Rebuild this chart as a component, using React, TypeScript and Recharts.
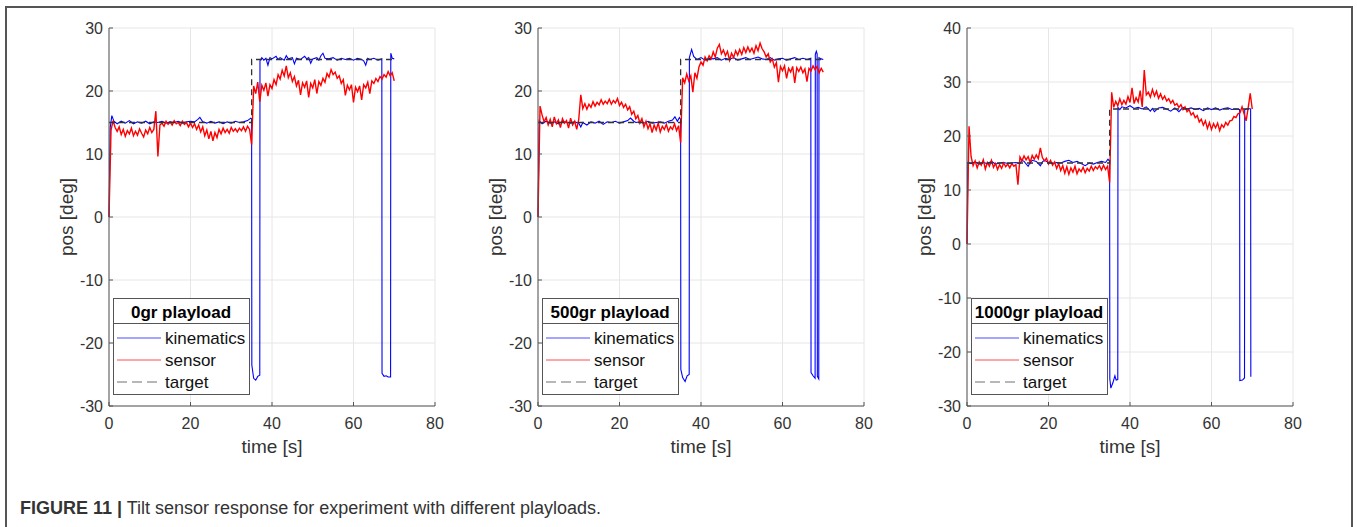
import { LineChart, Line, XAxis, YAxis, CartesianGrid, Legend } from "recharts";

// sampling step of the tilt sensor traces (s)
const SENSOR_STEP = 0.5;

const xTicks = [0, 20, 40, 60, 80];
const yTicksA = [-30, -20, -10, 0, 10, 20, 30];
const yTicksB = [-30, -20, -10, 0, 10, 20, 30, 40];

const panelTitles = ["0gr playload", "500gr playload", "1000gr playload"];

// reference position, same for every experiment: [time, deg]
const target: [number, number][] = [[0, 15], [35, 15], [35, 25], [70, 25]];

// kinematics estimate: [time, deg]
const kin0: [number, number][] = [
  [0, 0], [0.3, 14.2], [0.7, 16.1], [1.2, 15.2], [2, 14.8], [3, 15.2], [4, 14.9], [5, 15.3], [6, 14.8], [7, 15.1],
  [8, 14.9], [9, 15.2], [10, 14.8], [11, 15.1], [12, 15], [13, 15.2], [14, 14.9], [15, 15.1], [16, 15], [17, 15.2],
  [18, 14.9], [19, 15.1], [20, 15.2], [21, 15.1], [21.8, 15.5], [22.3, 15.8], [23, 15.1], [24, 14.9], [25, 15.2],
  [26, 14.9], [27, 15.1], [28, 14.8], [29, 15.1], [30, 14.9], [31, 15.2], [32, 15], [33, 15.1], [34, 15.3],
  [34.8, 15.7], [35, 15.6], [35.05, -23.5], [35.5, -25.6], [36, -25.9], [36.5, -25.3], [37, -25.1], [37.05, 24.8],
  [37.5, 25.3], [38, 24.9], [38.5, 25.2], [39, 24.1], [39.5, 25.3], [40, 25.1], [41, 25.5], [41.5, 25], [42, 25.3],
  [43, 24.9], [43.5, 25.6], [44, 25.1], [45, 25.3], [45.5, 24.3], [46, 25.2], [47, 25], [48, 25.5], [48.5, 25.1],
  [49, 25.3], [49.5, 24.4], [50, 25.1], [51, 25.3], [51.5, 24.9], [52, 25.6], [52.5, 26], [53, 25.2], [54, 25.1],
  [55, 25.3], [56, 24.9], [57, 25.2], [58, 25], [59, 25.2], [60, 24.9], [61, 25.2], [62, 25], [62.5, 24.8],
  [63, 24.1], [63.5, 25.2], [64, 25], [65, 25.2], [66, 24.9], [66.95, 25.1], [67, -24.8], [67.5, -25.3],
  [68, -25.2], [68.5, -25.4], [69.1, -25.4], [69.15, 26], [69.5, 25.2], [70, 25.1],
];

const kin1: [number, number][] = [
  [0, 0], [0.3, 15.3], [1, 14.8], [2, 15.2], [3, 14.9], [4, 15.1], [5, 14.8], [6, 15.2], [7, 15], [8, 14.9],
  [9, 15.1], [10, 14.9], [10.5, 14.3], [11, 15], [12, 14.6], [13, 15.1], [14, 14.9], [15, 15.2], [16, 14.7],
  [17, 15.1], [18, 15], [19, 15.2], [20, 14.9], [21, 15.1], [22, 15.3], [22.7, 15.7], [23.5, 15.2], [24, 15],
  [25, 15.1], [26, 14.9], [27, 15.2], [28, 14.9], [29, 15], [30, 15.1], [31, 14.9], [32, 15.2], [33, 15.4],
  [33.6, 15.9], [34.2, 15.2], [34.7, 15.8], [35, 15.5], [35.05, -24.2], [35.5, -25.5], [36.1, -26.1],
  [36.6, -25.2], [37.1, -25], [37.15, 25.3], [37.7, 26.6], [38.2, 25.5], [39, 25], [40, 25.3], [41, 24.9],
  [42, 25.2], [43, 25.1], [44, 25.3], [45, 24.9], [46, 25.2], [47, 25], [48, 25.3], [49, 24.9], [50, 25.1],
  [51, 25.3], [52, 25], [53, 25.2], [54, 25.4], [55, 25.1], [56, 25], [57, 25.3], [58, 24.9], [59, 25.1],
  [60, 25.2], [61, 24.9], [62, 25.1], [63, 25.3], [64, 25], [65, 25.2], [66, 25], [66.95, 25.2], [67, -24.7],
  [67.5, -25.2], [68, -25.6], [68.05, 25.8], [68.3, 26.3], [68.5, 25.9], [68.55, -25.3], [68.9, -25.7],
  [68.95, 25.3], [69.5, 25.1], [70, 25],
];

const kin2: [number, number][] = [
  [0, 0], [0.2, 15.1], [1, 14.9], [2, 15.2], [3, 14.8], [4, 15.1], [5, 14.9], [6, 15.3], [7, 14.8], [8, 15],
  [9, 15.1], [10, 14.9], [11, 15], [12, 15.1], [13, 14.9], [13.5, 15.5], [14, 15.3], [15, 14.4], [15.5, 15.1],
  [16, 15.5], [17, 15.3], [18, 14.5], [18.5, 15.2], [19, 15.5], [20, 15.1], [21, 14.9], [22, 15.1], [23, 15],
  [24, 15.3], [25, 15.5], [26, 15.1], [27, 15.3], [28, 14.9], [29, 14.5], [30, 15], [31, 14.8], [32, 15.1],
  [33, 15.3], [34, 15.1], [34.6, 15.7], [35, 15.3], [35.05, -25], [35.3, -26.7], [35.8, -25.7], [36.3, -24.4],
  [36.6, -25.2], [37, -25.1], [37.05, 25.3], [37.5, 24.9], [38, 25.4], [39, 25.2], [40, 25.6], [41, 25.1],
  [42, 25.3], [43, 25], [44, 25.4], [45, 24.6], [45.5, 25.1], [46, 24.5], [47, 25.2], [48, 25.3], [49, 25],
  [50, 24.6], [51, 25.2], [52, 24.5], [53, 25.3], [54, 25], [55, 25.2], [56, 24.9], [57, 25.1], [58, 24.7],
  [59, 25.2], [60, 24.9], [61, 25.2], [62, 24.8], [63, 25.1], [64, 25.2], [65, 24.9], [66, 25], [66.9, 24.9],
  [66.95, -25.3], [67.6, -25.2], [68.1, -24.8], [68.15, 24.9], [69, 25.1], [69.6, 25], [69.65, -24.6],
];

// tilt sensor readings, one every SENSOR_STEP seconds from t = 0 (deg)
const sen0 = [
  0, 13.8, 15.3, 14.2, 13.6, 14.3, 13.1, 13.9, 12.8, 13.7, 13.2, 14.1, 12.9, 13.6, 13.0, 14.0, 13.3, 12.7, 13.8, 13.2,
  14.2, 13.4, 13.9, 16.8, 9.6, 14.6, 14.9, 14.4, 15.2, 14.7, 15.1, 14.6, 15.3, 14.8, 15.0, 14.5, 15.2, 14.7, 15.0, 14.3,
  14.9, 14.2, 14.8, 13.9, 14.6, 13.5, 14.3, 12.9, 13.8, 12.4, 13.6, 12.1, 13.4, 12.6, 13.9, 13.2, 14.1, 13.4, 13.9, 13.3,
  14.2, 13.6, 14.0, 13.5, 14.1, 13.7, 14.3, 13.6, 14.4, 13.9, 11.5, 20.8, 19.6, 21.4, 18.3, 20.9, 20.1, 21.3, 19.2, 21.0,
  20.4, 21.8, 21.0, 22.6, 21.9, 23.3, 22.4, 24.0, 22.1, 22.9, 21.5, 22.3, 20.8, 21.7, 19.4, 21.3, 20.6, 21.6, 19.0, 21.2,
  20.5, 21.8, 19.6, 21.5, 20.9, 22.0, 21.4, 22.8, 22.2, 23.4, 22.6, 23.0, 22.0, 22.4, 21.2, 21.8, 19.3, 20.9, 20.2, 21.0,
  18.2, 20.6, 19.9, 20.8, 18.6, 21.0, 20.5, 21.4, 19.6, 21.6, 21.2, 22.0, 21.5, 22.3, 21.9, 22.6, 22.2, 23.1, 22.4, 22.9,
  21.6,
];

const sen1 = [
  0, 17.6, 16.2, 15.1, 15.8, 14.6, 15.5, 14.3, 15.9, 14.8, 15.4, 14.2, 15.6, 14.9, 15.3, 14.1, 15.7, 14.6, 15.2, 13.9,
  15.5, 19.4, 17.2, 18.0, 17.1, 17.9, 17.4, 18.3, 17.6, 18.2, 17.8, 18.6, 17.9, 18.4, 18.0, 18.7, 17.9, 18.5, 18.1, 18.8,
  17.7, 18.2, 17.4, 17.9, 17.0, 17.5, 16.3, 16.8, 15.6, 16.1, 14.9, 15.6, 14.3, 15.2, 14.0, 14.8, 13.4, 14.6, 13.8, 14.9,
  13.5, 14.4, 13.9, 14.7, 13.6, 14.3, 13.9, 14.8, 13.7, 14.5, 11.8, 22.1, 21.3, 22.7, 21.6, 22.4, 19.8, 22.9, 22.0, 23.8,
  24.6, 24.1, 25.4, 24.8, 25.6, 25.1, 26.2, 25.4, 26.8, 27.4, 25.9, 26.5, 25.6, 26.3, 24.9, 26.0, 25.3, 26.4, 25.7, 26.6,
  25.8, 26.9, 26.1, 27.0, 26.2, 26.8, 26.0, 27.2, 26.4, 27.6, 26.7, 26.2, 25.4, 25.9, 24.6, 25.1, 23.8, 24.5, 21.4, 23.9,
  23.2, 24.0, 22.0, 23.6, 23.0, 23.9, 21.3, 23.7, 23.1, 23.8, 22.9, 23.5, 21.5, 23.6, 23.2, 24.0, 23.4, 23.9, 22.9, 23.6,
  23.0,
];

const sen2 = [
  0, 21.8, 16.2, 14.5, 15.4, 14.1, 15.2, 14.6, 15.6, 13.9, 15.1, 14.4, 15.5, 14.2, 14.9, 13.8, 14.7, 14.0, 15.0, 14.3,
  14.8, 14.1, 14.9, 14.4, 14.7, 11.0, 16.1, 15.4, 16.3, 15.6, 16.2, 15.1, 16.4, 15.7, 16.5, 15.8, 17.8, 16.0, 15.4, 15.9,
  14.8, 15.5, 14.6, 15.2, 14.0, 14.9, 13.6, 14.5, 13.1, 14.3, 12.9, 14.1, 13.3, 14.4, 13.0, 13.9, 13.4, 14.2, 13.2, 14.0,
  13.5, 14.4, 13.6, 14.3, 13.9, 14.5, 13.7, 14.6, 13.8, 14.4, 11.4, 28.1, 25.3, 26.4, 25.6, 26.9, 25.8, 26.6, 25.9, 27.3,
  26.2, 28.9, 26.0, 27.1, 26.3, 28.4, 25.4, 32.2, 27.6, 28.1, 27.2, 28.6, 27.4, 28.3, 27.0, 27.8, 26.8, 27.4, 26.5, 26.9,
  26.1, 26.6, 25.7, 26.0, 25.3, 25.8, 24.9, 25.4, 24.5, 24.9, 23.9, 24.3, 23.4, 23.8, 22.6, 23.1, 22.0, 22.8, 21.4, 22.5,
  21.2, 22.3, 21.5, 22.4, 21.0, 22.1, 21.6, 22.5, 22.0, 22.8, 22.9, 23.6, 23.4, 24.1, 24.3, 25.4, 24.1, 22.8, 25.2, 27.9,
  25.0,
];

const SERIES = [
  { name: "kinematics", color: "#0000ff", width: 1.1, dash: undefined as string | undefined, legendDash: undefined as string | undefined },
  { name: "sensor", color: "#ff0000", width: 1.4, dash: undefined as string | undefined, legendDash: undefined as string | undefined },
  { name: "target", color: "#333333", width: 1.3, dash: "6 4", legendDash: "10 5" },
];

const FONT = '"Liberation Sans", Arial, Helvetica, sans-serif';
const TEXT = "#333";
const AXIS = "#555";

const pairs = (p: [number, number][]) => p.map(([t, v]) => ({ t, v }));
const sampled = (vals: number[]) => vals.map((v, i) => ({ t: i * SENSOR_STEP, v }));

const PANELS = [
  { left: 49, title: panelTitles[0], kin: kin0, sen: sen0, yTicks: yTicksA },
  { left: 478, title: panelTitles[1], kin: kin1, sen: sen1, yTicks: yTicksA },
  { left: 907, title: panelTitles[2], kin: kin2, sen: sen2, yTicks: yTicksB },
];

const CH_W = 406;
const CH_H = 448;
const TOP = 18;
const M = { top: 10, right: 20, bottom: 0, left: 0 };
const Y_W = 60;
const X_H = 60;

function XTick(props: any) {
  const { x, y, payload } = props;
  return (
    <g>
      <line x1={x} x2={x} y1={y} y2={y - 4} stroke={AXIS} />
      <text x={x} y={y + 17} textAnchor="middle" dominantBaseline="central" fontSize={16} fill={TEXT} fontFamily={FONT}>
        {payload.value}
      </text>
    </g>
  );
}

function YTick(props: any) {
  const { x, y, payload } = props;
  return (
    <g>
      <line x1={x} x2={x + 4} y1={y} y2={y} stroke={AXIS} />
      <text x={x - 6} y={y} textAnchor="end" dominantBaseline="central" fontSize={16} fill={TEXT} fontFamily={FONT}>
        {payload.value}
      </text>
    </g>
  );
}

function LegendBox({ title }: { title: string }) {
  return (
    <svg width={137} height={97} style={{ display: "block" }}>
      <rect x={0.5} y={0.5} width={136} height={96} fill="#fff" stroke={AXIS} />
      <line x1={0.5} x2={136.5} y1={25.5} y2={25.5} stroke={AXIS} />
      <text x={68} y={14} textAnchor="middle" dominantBaseline="central" fontWeight="bold" fontSize={17} fill="#000" fontFamily={FONT}>
        {title}
      </text>
      {SERIES.map((s, i) => (
        <g key={s.name}>
          <line x1={4} x2={48} y1={40 + i * 22} y2={40 + i * 22} stroke={s.color} strokeOpacity={0.7} strokeDasharray={s.legendDash} />
          <text x={52} y={40 + i * 22} dominantBaseline="central" fontSize={17} fill="#111" fontFamily={FONT}>
            {s.name}
          </text>
        </g>
      ))}
    </svg>
  );
}

function Panel({ p }: { p: (typeof PANELS)[number] }) {
  const yMin = p.yTicks[0];
  const yMax = p.yTicks[p.yTicks.length - 1];
  const plotLeft = p.left + M.left + Y_W;
  const plotW = CH_W - M.left - M.right - Y_W;
  const plotTop = TOP + M.top;
  const plotH = CH_H - M.top - M.bottom - X_H;
  const lines = [pairs(p.kin), sampled(p.sen), pairs(target)];
  return (
    <>
      <div style={{ position: "absolute", left: p.left, top: TOP }}>
        <LineChart width={CH_W} height={CH_H} margin={M}>
          <CartesianGrid stroke="#e6e6e6" />
          <XAxis
            dataKey="t"
            type="number"
            domain={[0, 80]}
            ticks={xTicks}
            interval={0}
            height={X_H}
            tickSize={0}
            tickMargin={0}
            tickLine={false}
            axisLine={{ stroke: AXIS }}
            tick={<XTick />}
          />
          <YAxis
            type="number"
            domain={[yMin, yMax]}
            ticks={p.yTicks}
            interval={0}
            width={Y_W}
            tickSize={0}
            tickMargin={0}
            tickLine={false}
            allowDataOverflow
            axisLine={{ stroke: AXIS }}
            tick={<YTick />}
          />
          {SERIES.map((s, i) => (
            <Line
              key={s.name}
              name={s.name}
              data={lines[i]}
              dataKey="v"
              type="linear"
              dot={false}
              activeDot={false}
              stroke={s.color}
              strokeWidth={s.width}
              strokeDasharray={s.dash}
              isAnimationActive={false}
            />
          ))}
          <Legend
            layout="horizontal"
            verticalAlign="middle"
            align="center"
            content={() => <LegendBox title={p.title} />}
            wrapperStyle={{ left: 64, top: 280, width: 137, height: 97 }}
          />
        </LineChart>
      </div>
      <div
        style={{
          position: "absolute",
          left: plotLeft - 42,
          top: plotTop + plotH / 2,
          transform: "translate(-50%, -50%) rotate(-90deg)",
          fontSize: 19,
          color: TEXT,
          fontFamily: FONT,
          whiteSpace: "nowrap",
        }}
      >
        pos [deg]
      </div>
      <div
        style={{
          position: "absolute",
          left: plotLeft + plotW / 2,
          top: 447,
          transform: "translate(-50%, -50%)",
          fontSize: 19,
          color: TEXT,
          fontFamily: FONT,
          whiteSpace: "nowrap",
        }}
      >
        time [s]
      </div>
    </>
  );
}

export default function App() {
  return (
    <div
      style={{
        position: "absolute",
        left: 0,
        top: 0,
        width: 1357,
        height: 527,
        overflow: "hidden",
        background: "#fff",
        fontFamily: FONT,
      }}
    >
      <div
        style={{
          position: "absolute",
          left: 5,
          top: 6,
          width: 1348,
          height: 560,
          boxSizing: "border-box",
          border: "2px solid #555",
        }}
      />
      {PANELS.map((p) => (
        <Panel key={p.title} p={p} />
      ))}
      <div
        style={{
          position: "absolute",
          left: 20,
          top: 508,
          transform: "translateY(-50%)",
          fontSize: 18,
          color: TEXT,
          whiteSpace: "nowrap",
        }}
      >
        <b>FIGURE 11 |</b> Tilt sensor response for experiment with different playloads.
      </div>
    </div>
  );
}
